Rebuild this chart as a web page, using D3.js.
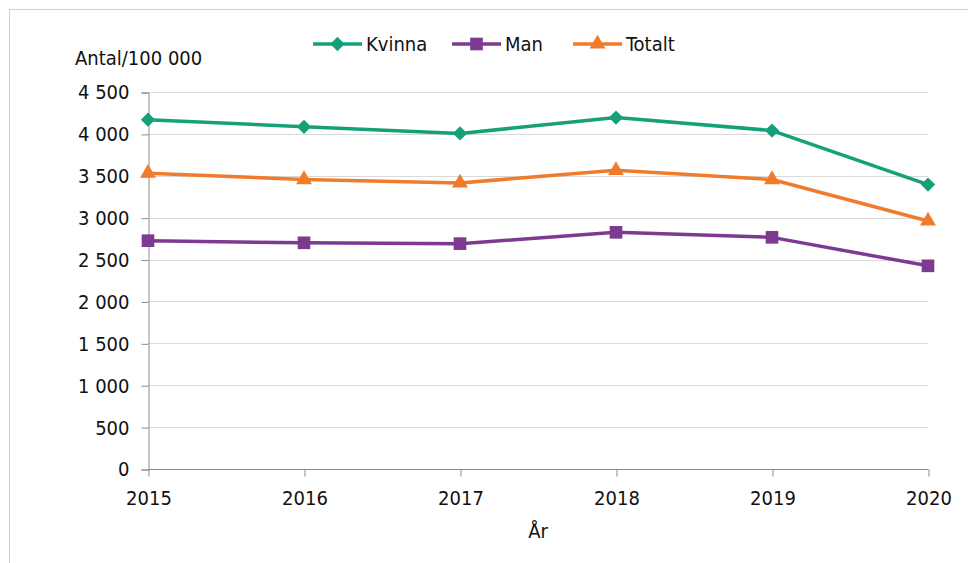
<!DOCTYPE html>
<html>
<head>
<meta charset="utf-8">
<script src="https://cdn.jsdelivr.net/npm/d3@7/dist/d3.min.js"></script>
<style>
  html, body { margin: 0; padding: 0; background: #fff; }
  svg { display: block; }
  text { font-family: "DejaVu Sans Condensed", "DejaVu Sans", sans-serif; fill: #111; }
</style>
</head>
<body>
<svg id="chart" width="968" height="563"></svg>
<script>
// Antal per 100 000 invånare, per år och kön
const years = [2015, 2016, 2017, 2018, 2019, 2020];
const kvinna = [4170, 4085, 4005, 4195, 4040, 3395];
const man = [2725, 2700, 2690, 2825, 2765, 2425];
const totalt = [3530, 3455, 3415, 3565, 3455, 2960];
const yTicks = [0, 500, 1000, 1500, 2000, 2500, 3000, 3500, 4000, 4500];

const series = [
  { name: "Kvinna", values: kvinna, color: "#16a079", symbol: d3.symbolDiamond2 },
  { name: "Man", values: man, color: "#7d3a91", symbol: d3.symbolSquare },
  { name: "Totalt", values: totalt, color: "#f07b2b", symbol: d3.symbolTriangle }
];

const svg = d3.select("#chart");
const margin = { left: 148, right: 40, top: 92, bottom: 94 };
const W = 968, H = 563;

// outer frame
svg.append("rect")
  .attr("x", 9.5).attr("y", 9.5)
  .attr("width", 980).attr("height", 580)
  .attr("fill", "none").attr("stroke", "#d0d0d0").attr("stroke-width", 1);

const x = d3.scalePoint().domain(years).range([margin.left, W - margin.right]);
const y = d3.scaleLinear().domain([0, 4500]).range([H - margin.bottom, margin.top]);

// horizontal gridlines
svg.append("g")
  .selectAll("line")
  .data(yTicks.filter(t => t > 0))
  .join("line")
  .attr("x1", margin.left).attr("x2", W - margin.right)
  .attr("y1", d => Math.round(y(d)) + 0.5).attr("y2", d => Math.round(y(d)) + 0.5)
  .attr("stroke", "#d9d9d9").attr("stroke-width", 1);

const fmt = d => d3.format(",")(d).replace(/,/g, "\u00a0");

// y axis
const yAxis = svg.append("g")
  .attr("transform", `translate(${margin.left + 0.5},0.5)`)
  .call(d3.axisLeft(y).tickValues(yTicks).tickSize(7).tickPadding(12).tickFormat(fmt));
yAxis.select(".domain").attr("stroke", "#8c8c8c");
yAxis.selectAll(".tick line").attr("stroke", "#8c8c8c");
yAxis.selectAll(".tick text")
  .attr("font-size", 20).attr("fill", "#111")
  .attr("font-family", "'DejaVu Sans Condensed', 'DejaVu Sans', sans-serif");

// x axis
const xAxis = svg.append("g")
  .attr("transform", `translate(0.5,${Math.round(y(0)) + 0.5})`)
  .call(d3.axisBottom(x).tickSize(7).tickSizeOuter(0).tickPadding(14).tickFormat(d3.format("d")));
xAxis.select(".domain").attr("stroke", "#8c8c8c").attr("d", `M${margin.left},0H${W - margin.right}`);
xAxis.selectAll(".tick line").attr("stroke", "#8c8c8c");
xAxis.selectAll(".tick text")
  .attr("font-size", 20).attr("fill", "#111")
  .attr("font-family", "'DejaVu Sans Condensed', 'DejaVu Sans', sans-serif");

// axis titles
svg.append("text")
  .attr("x", 75).attr("y", 65)
  .attr("font-size", 20)
  .text("Antal/100 000");
svg.append("text")
  .attr("x", 538).attr("y", 538)
  .attr("text-anchor", "middle")
  .attr("font-size", 20)
  .text("År");

// lines and markers
const line = d3.line().x((d, i) => x(years[i])).y(d => y(d));
const sizes = { "Kvinna": 130, "Man": 160, "Totalt": 110 };

series.forEach(s => {
  svg.append("path")
    .datum(s.values)
    .attr("d", line)
    .attr("fill", "none")
    .attr("stroke", s.color)
    .attr("stroke-width", 3.5)
    .attr("stroke-linejoin", "round");
  svg.append("g")
    .selectAll("path")
    .data(s.values)
    .join("path")
    .attr("transform", (d, i) => `translate(${x(years[i])},${y(d)})`)
    .attr("d", d3.symbol().type(s.symbol).size(sizes[s.name]))
    .attr("fill", s.color);
});

// legend
const legendItems = [
  { s: series[0], x0: 313 },
  { s: series[1], x0: 452 },
  { s: series[2], x0: 573 }
];
const ly = 44;
const lg = svg.append("g");
legendItems.forEach(it => {
  lg.append("line")
    .attr("x1", it.x0).attr("x2", it.x0 + 49)
    .attr("y1", ly).attr("y2", ly)
    .attr("stroke", it.s.color).attr("stroke-width", 3.5);
  lg.append("path")
    .attr("transform", `translate(${it.x0 + 24.5},${ly})`)
    .attr("d", d3.symbol().type(it.s.symbol).size(sizes[it.s.name]))
    .attr("fill", it.s.color);
  lg.append("text")
    .attr("x", it.x0 + 53).attr("y", ly + 7)
    .attr("font-size", 20)
    .text(it.s.name);
});
</script>
</body>
</html>
